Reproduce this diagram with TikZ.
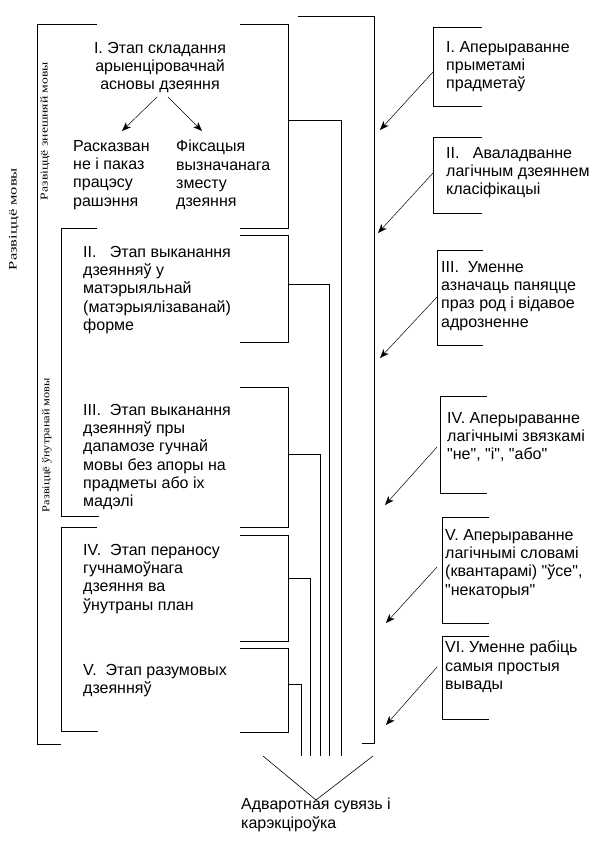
\documentclass[tikz,border=0pt]{standalone}
\usepackage{fontspec}
\setmainfont{Liberation Sans}
\newfontfamily\plainsans{Liberation Sans}
\newfontfamily\serifrm{Liberation Serif}
\usetikzlibrary{arrows.meta}
\begin{document}
\begin{tikzpicture}[x=1pt,y=-1pt,
  ln/.style={line width=0.9pt, line join=miter},
  arr/.style={line width=0.5pt, -{Stealth[length=9pt,width=7pt,inset=2.5pt]}},
  txt/.style={inner sep=0pt, align=left, anchor=north west, font=\plainsans\fontsize{16}{18.3}\selectfont},
  ctxt/.style={inner sep=0pt, align=center, anchor=north, font=\plainsans\fontsize{16}{18.3}\selectfont},
  vlab/.style={inner sep=0pt, rotate=90, anchor=center}]
\useasboundingbox (0,0) rectangle (605,841);

% rotated labels
\node[vlab] (lbl0) at (14,219) {\resizebox{102pt}{\height}{\serifrm\fontsize{11.5}{12}\selectfont Развіццё мовы}};
\node[vlab] (lbl1) at (45,131) {\resizebox{138pt}{\height}{\serifrm\fontsize{10.5}{11}\selectfont Развіццё знешняй мовы}};
\node[vlab] (lbl2) at (47,445) {\resizebox{134pt}{\height}{\serifrm\fontsize{10.5}{11}\selectfont Развіццё ўнутранай мовы}};

% left brackets
\draw[ln] (97,24) -- (37,24) -- (37,744) -- (61,744);
\draw[ln] (97,228) -- (61,228) -- (61,516) -- (99,516);
\draw[ln] (97,527) -- (61,527) -- (61,731) -- (98,731);

% right brackets of stages and their connectors
\draw[ln] (240,24) -- (288,24) -- (288,228) -- (240,228);
\draw[ln] (288,120) -- (341,120) -- (341,756);
\draw[ln] (240,235) -- (288,235) -- (288,342) -- (240,342);
\draw[ln] (288,284) -- (329,284) -- (329,756);
\draw[ln] (240,387) -- (288,387) -- (288,527) -- (240,527);
\draw[ln] (288,454) -- (320,454) -- (320,756);
\draw[ln] (240,535) -- (288,535) -- (288,641) -- (240,641);
\draw[ln] (288,578) -- (310,578) -- (310,756);
\draw[ln] (240,648) -- (288,648) -- (288,732) -- (240,732);
\draw[ln] (288,684) -- (301,684) -- (301,756);

% big right bracket
\draw[ln] (298,16) -- (374,16) -- (374,743) -- (362,743);

% funnel
\coordinate (fl) at (263,756);
\coordinate (fr) at (373,756);
\coordinate (fa) at (316,800);
\draw[line width=0.6pt] (fl) -- (fa) -- (fr);

% stage texts
\node[ctxt] (s1) at (160,42) {I. Этап складання\\арыенціровачнай\\асновы дзеяння};
\node[txt] (s1a) at (73,140) {Расказван\\не і паказ\\працэсу\\рашэння};
\node[txt] (s1b) at (176,140) {Фіксацыя\\вызначанага\\зместу\\дзеяння};
\coordinate (s1l) at (157,97);
\coordinate (s1r) at (168,97);
\coordinate (s1ae) at (122,131);
\coordinate (s1be) at (202,131);
\draw[arr] (s1l) -- (s1ae);
\draw[arr] (s1r) -- (s1be);

\node[txt] (s2) at (83,246) {II.\ \ \ Этап выканання\\дзеянняў у\\матэрыяльнай\\(матэрыялізаванай)\\форме};
\node[txt] (s3) at (83,404) {III.\ \ Этап выканання\\дзеянняў пры\\дапамозе гучнай\\мовы без апоры на\\прадметы або іх\\мадэлі};
\node[txt] (s4) at (83,544) {IV.\ \ Этап пераносу\\гучнамоўнага\\дзеяння ва\\ўнутраны план};
\node[txt] (s5) at (83,664) {V.\ \ Этап разумовых\\дзеянняў};

% feedback
\node[txt] (fb) at (241,798) {Адваротная сувязь і\\карэкціроўка};

% right boxes
\draw[ln] (482,27) -- (433,27) -- (433,106) -- (482,106);
\node[txt] (r1) at (446,41) {I. Аперыраванне\\прыметамі\\прадметаў};
\draw[ln] (482,137) -- (433,137) -- (433,213) -- (482,213);
\node[txt] (r2) at (446,147) {II.\ \ \ Аваладванне\\лагічным дзеяннем\\класіфікацыі};
\draw[ln] (483,250) -- (437,250) -- (437,345) -- (483,345);
\node[txt] (r3) at (441,261) {III.\ \ Уменне\\азначаць паняцце\\праз род і відавое\\адрозненне};
\draw[ln] (487,396) -- (440,396) -- (440,493) -- (487,493);
\node[txt] (r4) at (447,412) {IV. Аперыраванне\\лагічнымі звязкамі\\"не", "і", "або"};
\draw[ln] (489,517) -- (442,517) -- (442,623) -- (489,623);
\node[txt] (r5) at (445,529) {V. Аперыраванне\\лагічнымі словамі\\(квантарамі) "ўсе",\\"некаторыя"};
\draw[ln] (489,636) -- (442,636) -- (442,719) -- (489,719);
\node[txt] (r6) at (445,641) {VI. Уменне рабіць\\самыя простыя\\вывады};

% arrows from right boxes
\coordinate (a1s) at (433,72);  \coordinate (a1e) at (380,130);
\coordinate (a2s) at (433,173); \coordinate (a2e) at (378,233);
\coordinate (a3s) at (437,297); \coordinate (a3e) at (380,358);
\coordinate (a4s) at (437,447); \coordinate (a4e) at (385,505);
\coordinate (a5s) at (437,567); \coordinate (a5e) at (386,623);
\coordinate (a6s) at (437,667); \coordinate (a6e) at (386,725);
\draw[arr] (a1s) -- (a1e);
\draw[arr] (a2s) -- (a2e);
\draw[arr] (a3s) -- (a3e);
\draw[arr] (a4s) -- (a4e);
\draw[arr] (a5s) -- (a5e);
\draw[arr] (a6s) -- (a6e);
\end{tikzpicture}
\end{document}
